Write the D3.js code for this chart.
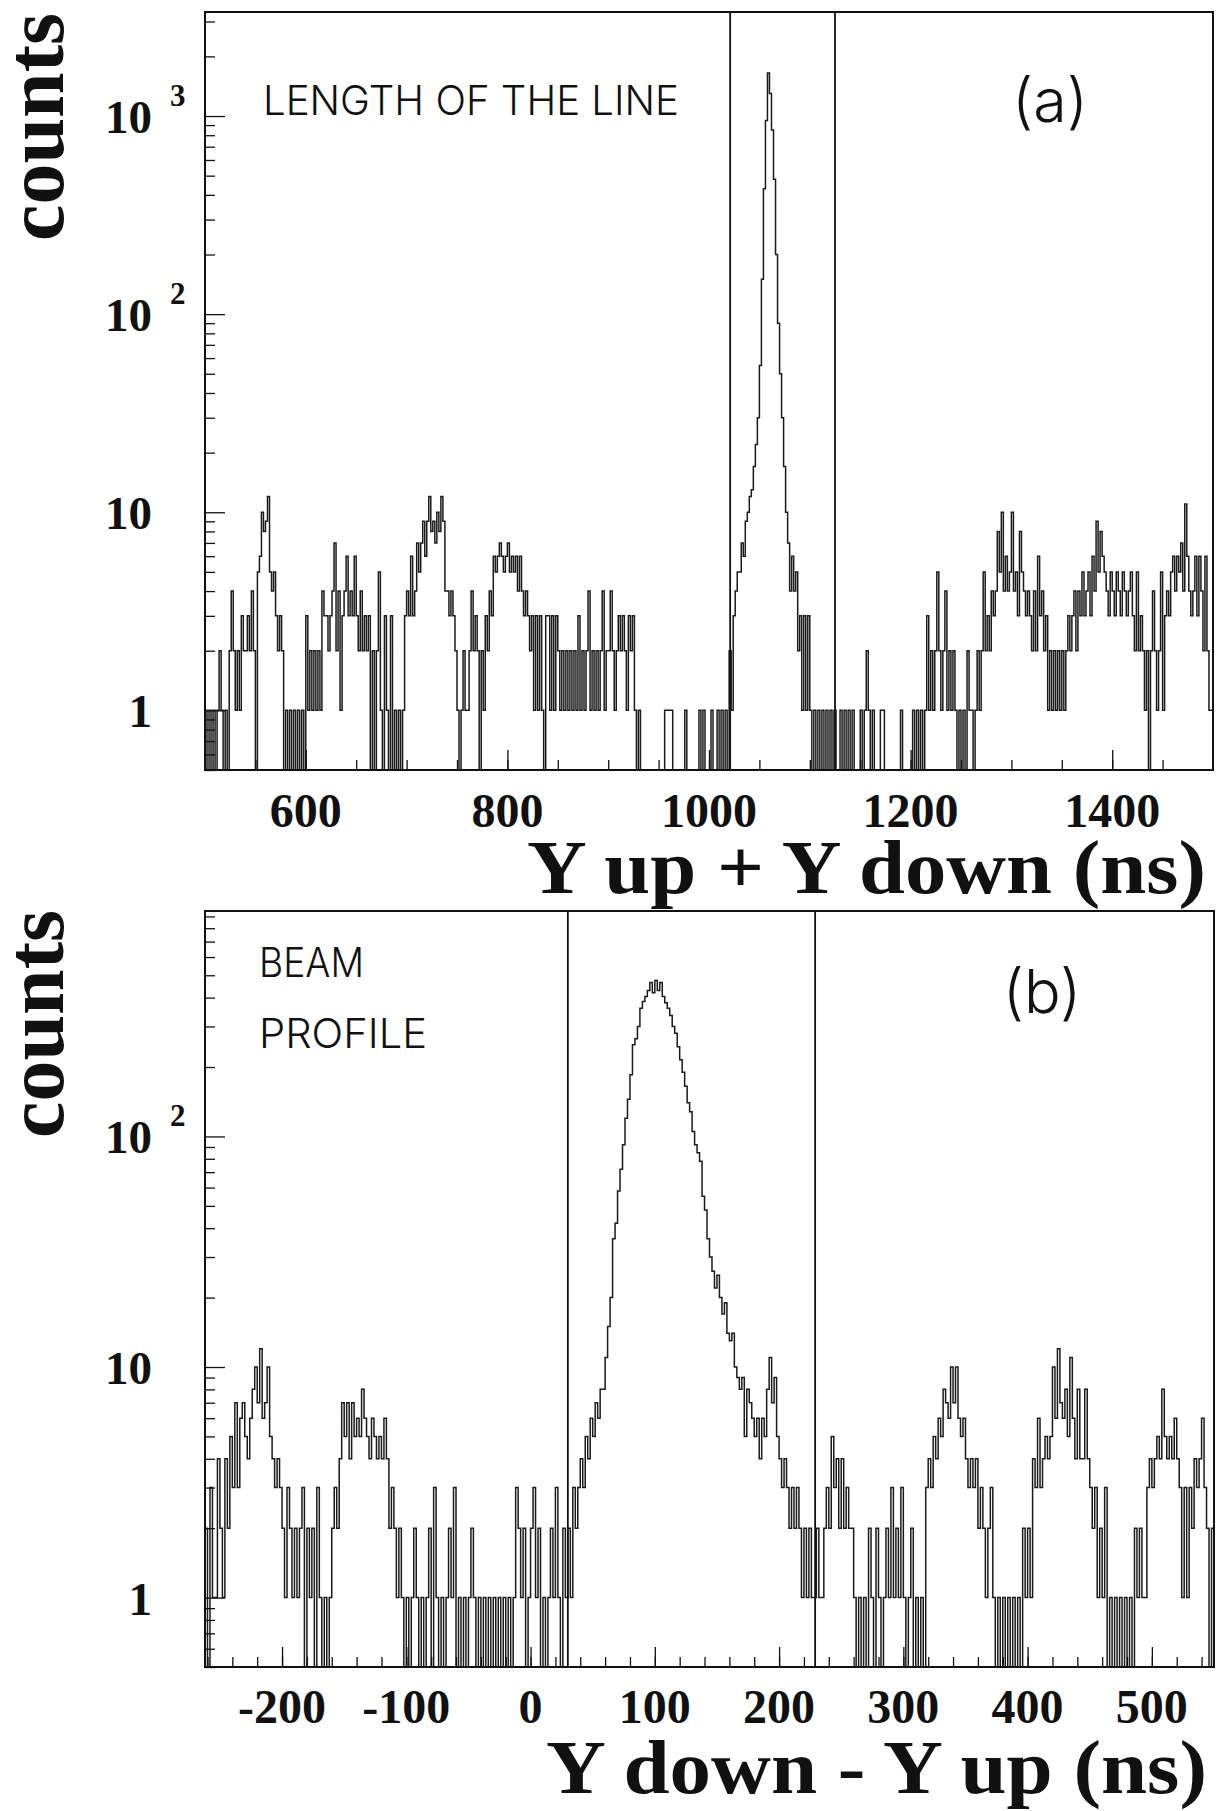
<!DOCTYPE html>
<html>
<head>
<meta charset="utf-8">
<script src="https://cdn.jsdelivr.net/npm/d3@7"></script>
<style>
  html, body { margin: 0; padding: 0; background: #ffffff; }
  svg { display: block; }
</style>
</head>
<body>
<svg id="chart" width="1220" height="1811"></svg>
<script>
// ---------------- DATA ----------------
const binWidth = 2; // ns per bin

// Panel (a): Y up + Y down, bins of 2 ns starting at 500 ns
const topStart = 500;
const topCounts = [
  1,0,1,0,1,0,1,2,1,0,        // 500
  1,0,2,4,2,1,2,1,3,2,        // 520
  2,3,2,4,2,0,5,6,10,8,       // 540
  9,12,5,4,5,3,2,3,2,0,       // 560
  1,0,1,0,1,0,1,0,1,0,        // 580
  3,1,2,1,2,1,2,1,4,3,        // 600
  3,2,3,4,7,2,4,1,3,4,        // 620
  6,3,4,3,6,3,2,4,2,3,        // 640
  2,3,0,2,0,2,5,1,0,3,        // 660
  1,0,3,0,1,0,1,0,1,3,        // 680
  4,3,6,3,4,7,5,7,9,6,        // 700
  9,12,8,9,7,10,8,12,9,4,     // 720
  4,3,4,3,2,1,0,1,2,1,        // 740
  1,2,4,2,3,2,0,2,1,3,        // 760
  2,4,3,6,5,6,7,6,5,6,        // 780
  7,5,6,5,6,4,6,4,3,4,        // 800
  3,2,3,1,3,1,3,1,0,3,        // 820
  3,1,3,1,3,2,1,2,1,2,        // 840
  1,2,1,2,1,3,1,2,1,2,        // 860
  4,1,2,1,2,1,2,4,1,2,        // 880
  2,4,2,1,2,3,2,3,2,1,        // 900
  3,2,3,1,0,1,0,0,0,0,        // 920
  0,0,0,0,0,0,0,0,1,1,        // 940
  1,1,0,0,0,0,0,0,1,0,        // 960
  0,0,0,0,0,1,0,1,0,0,        // 980
  0,1,0,0,1,0,1,0,1,0,        // 1000
  2,1,3,4,5,5,7,6,9,10,       // 1020
  12,13,17,22,30,55,150,430,950,1650,   // 1040
  1300,850,480,200,90,50,30,17,10,7,    // 1060
  4,6,4,5,2,3,1,3,1,3,        // 1080
  1,0,1,0,1,0,1,0,1,0,        // 1100
  1,0,1,0,0,1,0,1,0,1,        // 1120
  0,1,0,0,0,1,0,1,2,1,        // 1140
  0,1,0,0,0,1,1,0,0,0,        // 1160
  0,0,0,0,0,1,0,0,0,0,        // 1180
  0,1,0,1,0,1,0,1,3,1,        // 1200
  2,1,2,5,2,1,2,4,1,2,        // 1220
  1,2,1,0,1,0,1,0,2,1,        // 1240
  1,0,1,2,1,2,5,2,3,2,        // 1260
  4,3,4,8,5,10,4,6,4,5,       // 1280
  10,4,5,3,8,5,4,3,4,3,       // 1300
  2,4,2,6,3,4,2,3,1,2,        // 1320
  1,2,1,2,1,2,1,2,3,2,        // 1340
  3,4,2,4,3,5,3,4,5,3,        // 1360
  6,4,9,5,8,6,5,4,3,5,        // 1380
  4,3,5,4,3,5,4,3,4,5,        // 1400
  3,2,5,2,3,2,1,2,0,2,        // 1420
  4,2,1,2,5,1,3,4,3,5,        // 1440
  6,4,6,5,7,4,11,6,4,3,       // 1460
  4,6,3,6,4,2,6,2,1,1         // 1480
];

// Panel (b): Y down - Y up, bins of 2 ns starting at -262 ns
const bottomStart = -262;
const bottomCounts = [
  2,0,3,1,1,4,2,1,4,2,        // -262
  5,3,7,3,6,7,5,4,6,8,        // -242
  10,7,12,6,7,10,5,4,3,4,     // -222
  3,2,1,3,2,1,2,1,2,3,        // -202
  0,2,1,2,0,3,1,0,1,0,        // -182
  1,2,3,2,4,7,5,7,4,7,        // -162
  5,6,5,8,6,5,4,6,5,4,        // -142
  5,4,6,4,2,3,2,1,2,1,        // -122
  0,1,0,1,2,1,0,1,0,1,        // -102
  2,0,3,1,0,1,0,1,2,1,        // -82
  3,0,1,0,1,0,1,2,1,0,        // -62
  1,0,1,0,1,0,1,0,1,0,        // -42
  1,0,1,0,1,3,2,1,2,0,        // -22
  1,2,3,1,2,0,1,0,1,2,        // -2
  1,3,1,0,2,1,2,1,3,2,        // 18
  3,4,3,5,4,6,5,7,6,8,        // 38
  8,11,15,20,36,42,58,72,92,120,        // 58
  145,185,250,265,300,360,385,405,430,465, // 78
  420,475,430,465,405,380,360,335,300,280, // 98
  245,215,190,165,140,128,105,92,85,78,    // 118
  55,48,36,30,26,22,25,20,17,19,  // 138
  14,13,14,10,9,8,9,5,8,7,        // 158
  6,5,6,4,6,5,8,11,7,9,           // 178
  5,4,3,4,3,2,3,2,3,2,            // 198
  1,2,1,2,1,1,2,1,1,2,            // 218
  3,2,5,3,4,2,4,2,3,2,            // 238
  2,1,0,1,0,1,0,2,1,0,            // 258
  2,1,0,1,2,1,3,1,2,1,            // 278
  3,1,0,1,2,0,1,0,1,0,            // 298
  3,4,3,5,4,6,5,8,7,6,            // 318
  10,7,10,6,5,6,4,3,4,3,          // 338
  4,2,3,2,1,2,3,1,0,1,            // 358
  0,1,0,1,0,1,0,1,0,2,            // 378
  1,2,1,4,3,6,3,4,5,4,            // 398
  5,10,6,12,7,6,8,5,11,6,         // 418
  4,8,4,4,8,4,3,2,3,1,            // 438
  2,1,3,0,1,0,1,0,1,0,            // 458
  1,0,1,0,2,1,2,1,1,3,            // 478
  4,3,4,5,4,8,5,4,5,4,            // 498
  6,4,3,1,3,1,3,2,4,3,            // 518
  4,6,3,2,0,2                     // 538
];

// axis ranges and ticks
const topXDomain = [500, 1500];
const topYDomain = [0.5, 3350];
const bottomXDomain = [-262, 550];
const bottomYDomain = [0.5, 950];

const topXMajor = [600, 800, 1000, 1200, 1400];
const topXMinorStep = 50;
const bottomXMajor = [-200, -100, 0, 100, 200, 300, 400, 500];
const bottomXMinorStep = 20;
const topYMajor = [1, 10, 100, 1000];
const bottomYMajor = [1, 10, 100];

// cut (window) lines
const topCuts = [1021, 1125];
const bottomCuts = [30, 229];

// texts
const yTitle = "counts";
const topXTitle = "Y up + Y down (ns)";
const bottomXTitle = "Y down - Y up (ns)";
const topNote = ["LENGTH OF THE LINE"];
const bottomNote = ["BEAM", "PROFILE"];
const topTag = "(a)";
const bottomTag = "(b)";

// ---------------- DRAWING ----------------
const svg = d3.select("#chart");
const defs = svg.append("defs");
const SERIF = "'Liberation Serif','Times New Roman',Times,serif";
const THIN = "Inter,'Open Sans','DejaVu Sans',sans-serif";

function minorLogTicks(domain) {
  const out = [];
  const lo = Math.floor(Math.log10(domain[0])), hi = Math.ceil(Math.log10(domain[1]));
  for (let k = lo; k <= hi; k++) {
    for (let d = 2; d <= 9; d++) {
      const v = d * Math.pow(10, k);
      if (v >= domain[0] && v <= domain[1]) out.push(v);
    }
  }
  return out;
}

function drawPanel(cfg) {
  const b = cfg.box;
  const x = d3.scaleLinear().domain(cfg.xDomain).range([b.left, b.right]);
  const y = d3.scaleLog().domain(cfg.yDomain).range([b.bottom, b.top]).clamp(true);
  const g = svg.append("g").attr("class", "panel-" + cfg.name);

  const clipId = "clip-" + cfg.name;
  defs.append("clipPath").attr("id", clipId)
    .append("rect").attr("x", b.left).attr("y", b.top)
    .attr("width", b.right - b.left).attr("height", b.bottom - b.top);

  // histogram as step line
  const ymin = cfg.yDomain[0];
  const pts = [[cfg.start, ymin]];
  cfg.counts.forEach((c, i) => {
    const v = c > 0 ? c : ymin;
    pts.push([cfg.start + i * binWidth, v]);
    pts.push([cfg.start + (i + 1) * binWidth, v]);
  });
  pts.push([cfg.start + cfg.counts.length * binWidth, ymin]);
  const line = d3.line().x(d => x(d[0])).y(d => y(d[1]));
  g.append("path")
    .attr("d", line(pts))
    .attr("clip-path", `url(#${clipId})`)
    .attr("fill", "none")
    .attr("stroke", "#1a1a1a")
    .attr("stroke-width", 1.5)
    .attr("stroke-linejoin", "miter");

  // cut lines
  g.selectAll("line.cut").data(cfg.cuts).join("line")
    .attr("class", "cut")
    .attr("x1", d => x(d)).attr("x2", d => x(d))
    .attr("y1", b.top).attr("y2", b.bottom)
    .attr("stroke", "#111").attr("stroke-width", 1.8);

  // y axis ticks (inward)
  const yMinor = minorLogTicks(cfg.yDomain);
  const yAxisMinor = d3.axisLeft(y).tickValues(yMinor).tickSize(-10).tickFormat("");
  const yAxisMajor = d3.axisLeft(y).tickValues(cfg.yMajor).tickSize(-20).tickFormat("");
  [yAxisMinor, yAxisMajor].forEach(ax => {
    const a = g.append("g").attr("transform", `translate(${b.left},0)`).call(ax);
    a.select(".domain").remove();
    a.selectAll("line").attr("stroke", "#111").attr("stroke-width", 1.3);
  });

  // x axis ticks (inward)
  const xMinor = d3.range(Math.ceil(cfg.xDomain[0] / cfg.xMinorStep) * cfg.xMinorStep,
                          cfg.xDomain[1], cfg.xMinorStep).filter(v => v > cfg.xDomain[0]);
  const xAxisMinor = d3.axisBottom(x).tickValues(xMinor).tickSize(-10).tickFormat("");
  const xAxisMajor = d3.axisBottom(x).tickValues(cfg.xMajor).tickSize(-20).tickFormat("");
  [xAxisMinor, xAxisMajor].forEach(ax => {
    const a = g.append("g").attr("transform", `translate(0,${b.bottom})`).call(ax);
    a.select(".domain").remove();
    a.selectAll("line").attr("stroke", "#111").attr("stroke-width", 1.3);
  });

  // frame
  g.append("rect")
    .attr("x", b.left).attr("y", b.top)
    .attr("width", b.right - b.left).attr("height", b.bottom - b.top)
    .attr("fill", "none").attr("stroke", "#111").attr("stroke-width", 2);

  // x tick labels
  g.selectAll("text.xt").data(cfg.xMajor).join("text")
    .attr("class", "xt")
    .attr("x", d => x(d)).attr("y", cfg.xLabelBaseline)
    .attr("text-anchor", "middle")
    .attr("font-family", SERIF).attr("font-weight", "bold").attr("font-size", 48)
    .attr("fill", "#111")
    .text(d => String(d));

  // y tick labels: 1, 10, 10^2, 10^3
  cfg.yMajor.forEach(v => {
    const e = Math.round(Math.log10(v));
    const yy = y(v);
    const base = e === 0 ? "1" : "10";
    g.append("text")
      .attr("x", 152).attr("y", yy + 17)
      .attr("text-anchor", "end")
      .attr("font-family", SERIF).attr("font-weight", "bold").attr("font-size", 47)
      .attr("fill", "#111").text(base);
    if (e >= 2) {
      g.append("text")
        .attr("x", 170).attr("y", yy - 10)
        .attr("font-family", SERIF).attr("font-weight", "bold").attr("font-size", 31)
        .attr("fill", "#111").text(String(e));
    }
  });

  // y title
  g.append("text")
    .attr("transform", `translate(63,${cfg.yTitleCenter}) rotate(-90)`)
    .attr("text-anchor", "middle")
    .attr("font-family", SERIF).attr("font-weight", "bold").attr("font-size", 82)
    .attr("fill", "#111").text(yTitle);

  // x title
  g.append("text")
    .attr("x", cfg.xTitle.x).attr("y", cfg.xTitle.y)
    .attr("textLength", cfg.xTitle.len).attr("lengthAdjust", "spacingAndGlyphs")
    .attr("font-family", SERIF).attr("font-weight", "bold").attr("font-size", cfg.xTitle.size)
    .attr("fill", "#111").text(cfg.xTitle.text);

  // notes
  cfg.notes.forEach(n => {
    g.append("text")
      .attr("x", n.x).attr("y", n.y)
      .attr("textLength", n.len).attr("lengthAdjust", "spacingAndGlyphs")
      .attr("font-family", THIN).attr("font-weight", 300).attr("font-size", 41)
      .attr("fill", "#111").text(n.text);
  });
  g.append("text")
    .attr("x", cfg.tag.x).attr("y", cfg.tag.y)
    .attr("text-anchor", "middle")
    .attr("font-family", THIN).attr("font-weight", 300).attr("font-size", 61)
    .attr("fill", "#111").text(cfg.tag.text);
}

drawPanel({
  name: "a",
  box: { left: 205, right: 1213, top: 12, bottom: 770 },
  xDomain: topXDomain, yDomain: topYDomain,
  start: topStart, counts: topCounts, cuts: topCuts,
  xMajor: topXMajor, xMinorStep: topXMinorStep, yMajor: topYMajor,
  xLabelBaseline: 827,
  yTitleCenter: 127,
  xTitle: { text: topXTitle, x: 527, y: 893, len: 679, size: 76 },
  notes: [{ text: topNote[0], x: 263, y: 115, len: 416 }],
  tag: { text: topTag, x: 1050, y: 122 }
});

drawPanel({
  name: "b",
  box: { left: 205, right: 1214, top: 911, bottom: 1667 },
  xDomain: bottomXDomain, yDomain: bottomYDomain,
  start: bottomStart, counts: bottomCounts, cuts: bottomCuts,
  xMajor: bottomXMajor, xMinorStep: bottomXMinorStep, yMajor: bottomYMajor,
  xLabelBaseline: 1723,
  yTitleCenter: 1024,
  xTitle: { text: bottomXTitle, x: 546, y: 1793, len: 661, size: 76 },
  notes: [
    { text: bottomNote[0], x: 259, y: 977, len: 105 },
    { text: bottomNote[1], x: 259, y: 1048, len: 168 }
  ],
  tag: { text: bottomTag, x: 1042, y: 1013 }
});
</script>
</body>
</html>
